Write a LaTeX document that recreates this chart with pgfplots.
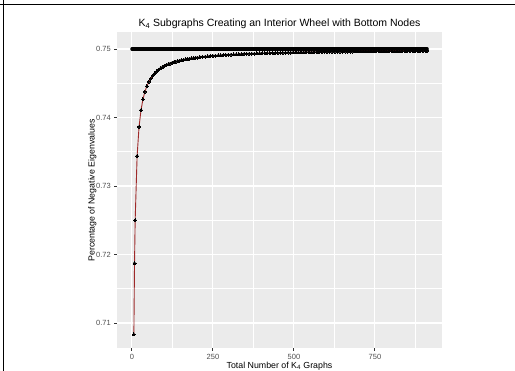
\documentclass[border=0pt]{standalone}
\usepackage{pgfplots}
\pgfplotsset{compat=1.18}
\usepackage{fontspec}
\setmainfont{Liberation Sans}
\definecolor{panel}{HTML}{EBEBEB}
\definecolor{ticklab}{HTML}{4D4D4D}
\definecolor{tickcol}{HTML}{333333}
\definecolor{curvered}{HTML}{9E2A2A}
\begin{document}
\begin{tikzpicture}[x=1pt,y=1pt]
\path[use as bounding box] (0,0) rectangle (515,371);
\draw[line width=1pt] (0,366.3) -- (515,366.3);
\draw[line width=1pt] (3.3,0) -- (3.3,371);
\begin{axis}[
  at={(116.7pt,22.7pt)}, anchor=south west,
  scale only axis, width=325.3pt, height=316pt,
  xmin=-47, xmax=957, ymin=0.70631, ymax=0.75244,
  axis background/.style={fill=panel},
  axis line style={draw=none},
  xtick={0,250,500,750}, minor xtick={125,375,625,875},
  ytick={0.71,0.72,0.73,0.74,0.75}, minor ytick={0.715,0.725,0.735,0.745},
  yticklabels={0.71,0.72,0.73,0.74,0.75},
  xticklabels={0,250,500,750},
  grid=both,
  major grid style={white, line width=1.1pt},
  minor grid style={white, line width=0.55pt},
  tick align=outside,
  major tick length=2.4pt, minor tick length=0pt,
  tick style={tickcol, line width=0.9pt},
  ticklabel style={font=\fontsize{7.5}{8}\selectfont, text=ticklab},
  xtick pos=bottom, ytick pos=left,
  clip=false,
]
\addplot[black, line width=3.4pt, line cap=round] coordinates {(0,0.75) (911,0.75)};
\addplot[curvered, line width=0.9pt, mark=*, mark size=1.5pt, mark options={draw=black, fill=black, line width=0pt}] table {
x y
6 0.70833
8 0.71875
10 0.725
16 0.73438
22 0.73864
28 0.74107
34 0.74265
40 0.74375
46 0.74457
52 0.74519
58 0.74569
64 0.74609
70 0.74643
76 0.74671
82 0.74695
88 0.74716
94 0.74734
100 0.7475
106 0.74764
112 0.74777
118 0.74788
124 0.74798
130 0.74808
136 0.74816
142 0.74824
148 0.74831
154 0.74838
160 0.74844
166 0.74849
172 0.74855
178 0.7486
184 0.74864
190 0.74868
196 0.74872
202 0.74876
210 0.74881
218 0.74885
226 0.74889
234 0.74893
242 0.74897
250 0.749
258 0.74903
266 0.74906
274 0.74909
282 0.74911
290 0.74914
298 0.74916
306 0.74918
314 0.7492
322 0.74922
330 0.74924
338 0.74926
346 0.74928
354 0.74929
362 0.74931
370 0.74932
378 0.74934
386 0.74935
394 0.74937
402 0.74938
410 0.74939
418 0.7494
426 0.74941
434 0.74942
442 0.74943
450 0.74944
458 0.74945
466 0.74946
474 0.74947
482 0.74948
490 0.74949
498 0.7495
506 0.74951
514 0.74951
522 0.74952
530 0.74953
538 0.74954
546 0.74954
554 0.74955
562 0.74956
570 0.74956
578 0.74957
586 0.74957
594 0.74958
602 0.74958
610 0.74959
618 0.7496
626 0.7496
634 0.74961
642 0.74961
650 0.74962
658 0.74962
666 0.74962
674 0.74963
682 0.74963
690 0.74964
698 0.74964
706 0.74965
714 0.74965
722 0.74965
730 0.74966
738 0.74966
746 0.74966
754 0.74967
762 0.74967
770 0.74968
778 0.74968
786 0.74968
794 0.74969
802 0.74969
810 0.74969
818 0.74969
826 0.7497
834 0.7497
842 0.7497
850 0.74971
858 0.74971
866 0.74971
874 0.74971
882 0.74972
890 0.74972
898 0.74972
906 0.74972
911 0.74973
};
\end{axis}
\node[anchor=base, font=\fontsize{10.5}{12}\selectfont] at (279.5,344.3) {K\textsubscript{4} Subgraphs Creating an Interior Wheel with Bottom Nodes};
\node[anchor=base, font=\fontsize{8.8}{10}\selectfont] at (279.5,2.6) {Total Number of K\textsubscript{4} Graphs};
\node[anchor=base, rotate=90, font=\fontsize{8.8}{10}\selectfont] at (94.6,180.5) {Percentage of Negative Eigenvalues};
\end{tikzpicture}
\end{document}
